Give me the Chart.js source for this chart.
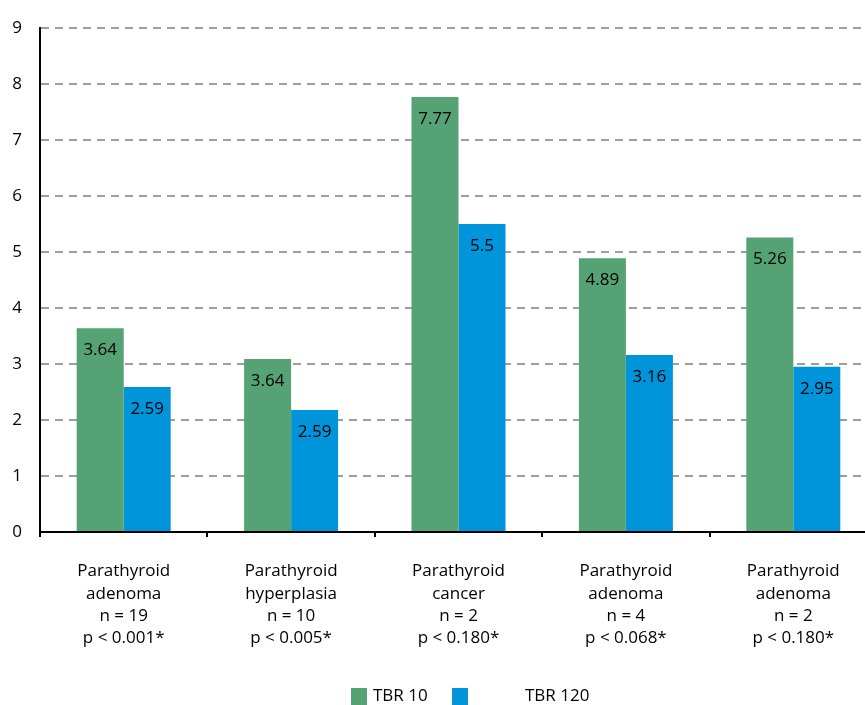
<!DOCTYPE html>
<html>
<head>
<meta charset="utf-8">
<script src="https://cdn.jsdelivr.net/npm/chart.js@4.4.1/dist/chart.umd.min.js"></script>
<style>
    html, body { margin: 0; padding: 0; background: #fff; overflow: hidden; }
    #chart { display: block; }
</style>
</head>
<body>
<canvas id="chart" width="877" height="705"></canvas>
<script>
// Data
const categories = [
    ['Parathyroid', 'adenoma', 'n = 19', 'p < 0.001*'],
    ['Parathyroid', 'hyperplasia', 'n = 10', 'p < 0.005*'],
    ['Parathyroid', 'cancer', 'n = 2', 'p < 0.180*'],
    ['Parathyroid', 'adenoma', 'n = 4', 'p < 0.068*'],
    ['Parathyroid', 'adenoma', 'n = 2', 'p < 0.180*']
];
const tbr10 = [3.64, 3.09, 7.77, 4.89, 5.26];
const tbr120 = [2.59, 2.18, 5.5, 3.16, 2.95];
// printed values (group 2 labels differ from bar heights in the source)
const tbr10Labels = ['3.64', '3.64', '7.77', '4.89', '5.26'];
const tbr120Labels = ['2.59', '2.59', '5.5', '3.16', '2.95'];
const yTicks = [0, 1, 2, 3, 4, 5, 6, 7, 8, 9];

const FONT = '"Open Sans", Lato, sans-serif';
const FONT_SIZE = 17;
const GREEN = '#55a274';
const BLUE = '#0094da';

// Value labels inside the top of each bar
const valueLabels = {
    id: 'valueLabels',
    afterDatasetsDraw(chart) {
        const ctx = chart.ctx;
        ctx.save();
        ctx.font = FONT_SIZE + 'px ' + FONT;
        ctx.fillStyle = '#000';
        ctx.textAlign = 'center';
        ctx.textBaseline = 'middle';
        chart.data.datasets.forEach((ds, i) => {
            chart.getDatasetMeta(i).data.forEach((bar, j) => {
                ctx.fillText(ds.valueLabels[j], bar.x, bar.y + 22);
            });
        });
        ctx.restore();
    }
};

// Legend drawn at the bottom, spaced like the source
const bottomLegend = {
    id: 'bottomLegend',
    afterDraw(chart) {
        const ctx = chart.ctx;
        const slots = [{ box: 351, text: 373 }, { box: 452, text: 525 }];
        ctx.save();
        ctx.font = FONT_SIZE + 'px ' + FONT;
        ctx.textBaseline = 'middle';
        chart.data.datasets.forEach((ds, i) => {
            ctx.fillStyle = ds.backgroundColor;
            ctx.fillRect(slots[i].box, 688, 16, 17);
            ctx.fillStyle = '#000';
            ctx.fillText(ds.label, slots[i].text, 696);
        });
        ctx.restore();
    }
};

const chart = new Chart(document.getElementById('chart').getContext('2d'), {
    type: 'bar',
    data: {
        labels: categories,
        datasets: [
            { label: 'TBR 10', data: tbr10, valueLabels: tbr10Labels, backgroundColor: GREEN },
            { label: 'TBR 120', data: tbr120, valueLabels: tbr120Labels, backgroundColor: BLUE }
        ]
    },
    options: {
        responsive: false,
        animation: false,
        categoryPercentage: 0.5615,
        barPercentage: 1,
        layout: { padding: { top: 18, right: 0, bottom: 0, left: 0 } },
        plugins: {
            legend: { display: false },
            tooltip: { enabled: false }
        },
        scales: {
            x: {
                afterFit: s => { s.height = 173; },
                grid: {
                    offset: true,
                    drawOnChartArea: false,
                    tickLength: 5,
                    color: '#000',
                    lineWidth: 2
                },
                border: { color: '#000', width: 2 },
                ticks: {
                    color: '#000',
                    padding: 23,
                    maxRotation: 0,
                    autoSkip: false,
                    font: { family: FONT, size: FONT_SIZE, lineHeight: 1.32 }
                }
            },
            y: {
                min: 0,
                max: 9,
                afterFit: s => { s.width = 40; },
                afterBuildTicks: s => { s.ticks = yTicks.map(v => ({ value: v })); },
                grid: {
                    drawTicks: false,
                    color: '#9e9e9e',
                    lineWidth: 2
                },
                border: { color: '#000', width: 2, dash: [8, 6] },
                ticks: {
                    color: '#000',
                    padding: 18,
                    font: { family: FONT, size: FONT_SIZE }
                }
            }
        }
    },
    plugins: [valueLabels, bottomLegend]
});
</script>
</body>
</html>
